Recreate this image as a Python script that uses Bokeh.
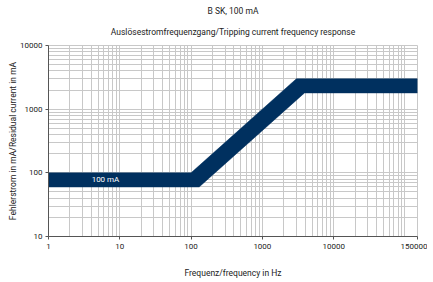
from bokeh.plotting import figure
from bokeh.models import FixedTicker, Label, Title, CustomJSTickFormatter
from bokeh.embed import file_html
from bokeh.resources import INLINE

# data
freq_upper = [1, 100, 3000, 150000]
cur_upper = [100, 100, 3000, 3000]
freq_lower = [1, 130, 3900, 150000]
cur_lower = [60, 60, 1800, 1800]
x_ticks = [1, 10, 100, 1000, 10000, 150000]
y_ticks = [10, 100, 1000, 10000]
band_label = "100 mA"
title1 = "B SK, 100 mA"
title2 = "Auslösestromfrequenzgang/Tripping current frequency response"
x_label = "Frequenz/frequency in Hz"
y_label = "Fehlerstrom in mA/Residual current in mA"

FONT = "Roboto"
NAVY = "#00305f"
GRID = "#c8c8c8"
TXT = "#222222"

p = figure(width=427, height=280, x_axis_type="log", y_axis_type="log",
           x_range=(1, 150000), y_range=(10, 10000),
           output_backend="svg", toolbar_location=None,
           min_border_left=48, min_border_right=10, min_border_top=45, min_border_bottom=40)
p.outline_line_color = GRID
p.background_fill_color = "white"
p.border_fill_color = "white"

x_minor = [m * 10 ** d for d in range(0, 5) for m in range(2, 10)] + [100000]
y_minor = [m * 10 ** d for d in range(1, 4) for m in range(2, 10)]

p.xaxis.ticker = FixedTicker(ticks=x_ticks)
p.yaxis.ticker = FixedTicker(ticks=y_ticks)
p.xgrid.ticker = FixedTicker(ticks=x_ticks, minor_ticks=x_minor)
p.ygrid.ticker = FixedTicker(ticks=y_ticks, minor_ticks=y_minor)
for g in (p.xgrid, p.ygrid):
    g.grid_line_color = GRID
    g.grid_line_width = 1
    g.minor_grid_line_color = GRID
    g.minor_grid_line_width = 1

fmt = CustomJSTickFormatter(code="return String(Math.round(tick));")
for ax in (p.xaxis, p.yaxis):
    ax.formatter = fmt
    ax.axis_line_color = "#555555"
    ax.major_tick_line_color = "#555555"
    ax.major_tick_out = 3
    ax.major_tick_in = 0
    ax.minor_tick_line_color = None
    ax.major_label_text_font = FONT
    ax.major_label_text_font_size = "8px"
    ax.major_label_text_color = TXT
    ax.axis_label_text_font = FONT
    ax.axis_label_text_font_size = "8.5px"
    ax.axis_label_text_font_style = "normal"
    ax.axis_label_text_color = TXT

p.xaxis.axis_label = x_label
p.xaxis.major_label_standoff = 4
p.yaxis.major_label_standoff = 3
p.xaxis.axis_label_standoff = 16

p.add_layout(Title(text=y_label, align="center", text_font=FONT, text_font_size="8.5px",
                   text_font_style="normal", text_color=TXT, standoff=0), "left")

bx = freq_upper + freq_lower[::-1]
by = cur_upper + cur_lower[::-1]
p.patch(bx, by, fill_color=NAVY, line_color=NAVY, line_width=0.5)

p.add_layout(Label(x=6.3, y=78, text=band_label, text_color="white", text_font=FONT,
                   text_font_size="8px", text_align="center", text_baseline="middle"))

p.title = Title(text=title1, align="center", text_font=FONT, text_font_size="8.5px",
                text_font_style="normal", text_color=TXT, standoff=0)
p.add_layout(Title(text=title2, align="center", text_font=FONT, text_font_size="8.5px",
                   text_font_style="normal", text_color=TXT, standoff=18), "above")

open("out.html", "w").write(file_html(p, INLINE))
